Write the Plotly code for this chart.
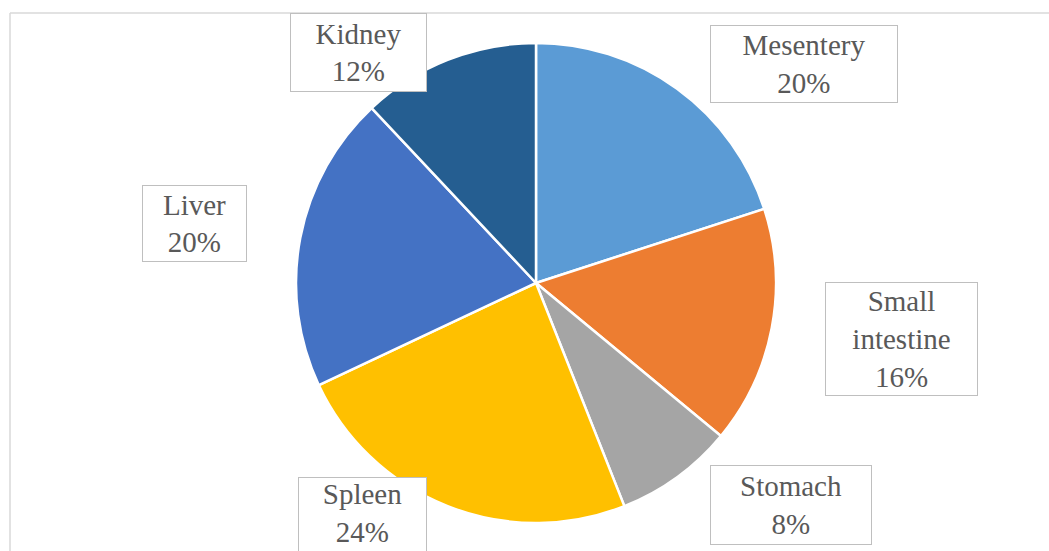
import plotly.graph_objects as go

labels = ["Mesentery", "Small intestine", "Stomach", "Spleen", "Liver", "Kidney"]
label_text = ["Mesentery", "Small<br>intestine", "Stomach", "Spleen", "Liver", "Kidney"]
values = [20, 16, 8, 24, 20, 12]
colors = ["#5B9BD5", "#ED7D31", "#A5A5A5", "#FFC000", "#4472C4", "#255E91"]

W, H = 1049, 551

# label box layout (left, top, width, height, valign) in pixels
boxes = {
    "Mesentery": (710, 25, 186, 76, "middle"),
    "Small intestine": (825, 282, 151, 112, "middle"),
    "Stomach": (710, 465, 160, 78, "middle"),
    "Spleen": (298, 477, 127, 74, "top"),
    "Liver": (142, 185, 103, 75, "middle"),
    "Kidney": (290, 13, 135, 77, "middle"),
}

cx, cy, r = 536, 283, 240

fig = go.Figure(go.Pie(
    labels=labels,
    values=values,
    sort=False,
    direction="clockwise",
    rotation=0,
    marker=dict(colors=colors, line=dict(color="white", width=2.5)),
    textinfo="none",
    hoverinfo="label+percent",
    showlegend=False,
    domain=dict(x=[(cx - r) / W, (cx + r) / W], y=[1 - (cy + r) / H, 1 - (cy - r) / H]),
))

total = sum(values)
annotations = []
for lab, txt, v in zip(labels, label_text, values):
    left, top, bw, bh, va = boxes[lab]
    annotations.append(dict(
        x=left / W, y=1 - top / H, xref="paper", yref="paper",
        xanchor="left", yanchor="top",
        text=f"{txt}<br>{round(v / total * 100)}%",
        showarrow=False,
        font=dict(family="'Liberation Serif', 'Times New Roman', 'DejaVu Serif', serif", size=29, color="#595959"),
        align="center", valign=va,
        width=bw, height=bh,
        bordercolor="#BFBFBF", borderwidth=1, borderpad=0,
        bgcolor="white",
    ))

fig.update_layout(
    width=W, height=H,
    margin=dict(l=0, r=0, t=0, b=0),
    paper_bgcolor="white",
    plot_bgcolor="white",
    annotations=annotations,
    shapes=[
        dict(type="line", xref="paper", yref="paper", x0=10 / W, x1=1.0, y0=1 - 13 / H, y1=1 - 13 / H,
             line=dict(color="#D9D9D9", width=1.5), layer="below"),
        dict(type="line", xref="paper", yref="paper", x0=10 / W, x1=10 / W, y0=0, y1=1 - 13 / H,
             line=dict(color="#D9D9D9", width=1.5), layer="below"),
    ],
)

fig.write_html("out.html")
